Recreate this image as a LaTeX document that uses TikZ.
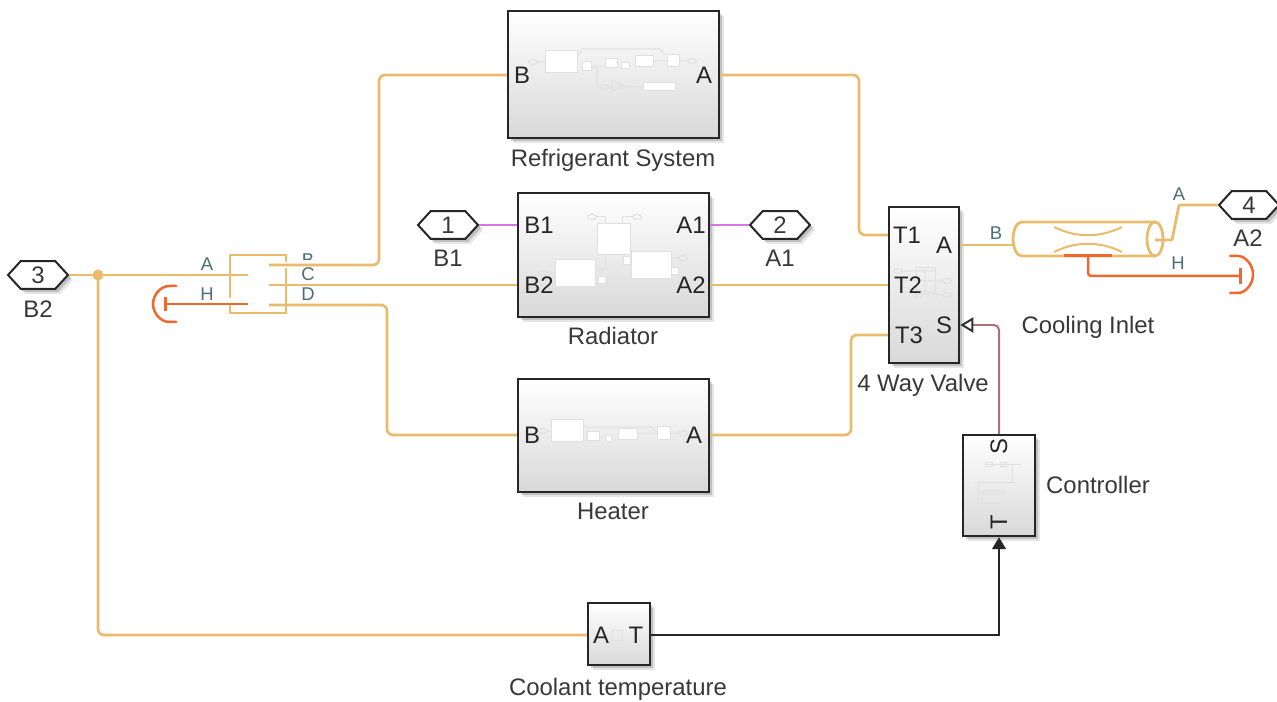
\documentclass[tikz,border=0pt]{standalone}
\usepackage{fontspec}
\setmainfont{Liberation Sans}
\usepackage{xcolor}
\usetikzlibrary{positioning,arrows.meta,shapes.symbols,shadows,calc}
\definecolor{FluidOrange}{RGB}{233,187,106}
\definecolor{HeatRed}{RGB}{240,104,44}
\definecolor{MoistPurple}{RGB}{214,120,226}
\definecolor{SignalBrown}{RGB}{172,112,122}
\definecolor{PortTeal}{RGB}{76,108,118}
\definecolor{BlockEdge}{RGB}{38,38,38}
\definecolor{TextGray}{RGB}{56,56,56}
\tikzset{
  softshadow/.style={drop shadow={shadow xshift=0.10cm, shadow yshift=-0.10cm, opacity=0.10, fill=black},
    drop shadow={shadow xshift=0.06cm, shadow yshift=-0.06cm, opacity=0.16, fill=black}},
  blockbox/.style={draw=BlockEdge, line width=0.05cm, top color=white, middle color=white, bottom color=black!15,
    inner sep=0pt, softshadow},
  porthex/.style={shape=signal, signal to=east and west, signal pointer angle=95, draw=BlockEdge, line width=0.04cm, fill=white,
    minimum width=1.2cm, minimum height=0.56cm, inner sep=0pt, text=TextGray, font=\fontsize{13.6}{15}\selectfont, softshadow},
  blocklab/.style={font=\fontsize{13.6}{15}\selectfont, text=TextGray, inner sep=0pt},
  portlab/.style={font=\fontsize{13.6}{15}\selectfont, text=BlockEdge, inner sep=0pt},
  wirelab/.style={font=\fontsize{10.5}{12}\selectfont, text=PortTeal, inner sep=0pt},
  fluid/.style={FluidOrange, line width=0.055cm, rounded corners=0.12cm},
  heat/.style={HeatRed, line width=0.05cm, rounded corners=0.06cm},
  moist/.style={MoistPurple, line width=0.05cm},
  faint/.style={black!12, line width=0.02cm},
}
\begin{document}
\begin{tikzpicture}[x=0.02cm,y=-0.02cm]
  \useasboundingbox (0,0) rectangle (1277,702);
  % blocks
  \node[blockbox, minimum width=4.22cm, minimum height=2.54cm] (refrig) at (613.5,74.5) {};
  \node[blockbox, minimum width=3.82cm, minimum height=2.48cm] (radiator) at (613.5,255) {};
  \node[blockbox, minimum width=3.82cm, minimum height=2.26cm] (heater) at (613.5,435.5) {};
  \node[blockbox, minimum width=1.40cm, minimum height=3.12cm] (valve) at (924,285) {};
  \node[blockbox, minimum width=1.44cm, minimum height=2.02cm] (ctrl) at (999,485.5) {};
  \node[blockbox, minimum width=1.24cm, minimum height=1.24cm] (coolant) at (619,634) {};
  % ghost content of the subsystems
  \foreach \xa/\ya/\xb/\yb in {545/51/577/73, 582/62/591/71, 605/59/617/68, 621/63/629/69, 635/56/653/67, 667/55/679/67, 643/83/675/91,
      597/224/630/255, 555/260/595/287, 631/252/671/279, 598/277/605/284, 623/257/630/265, 671/268/678/275,
      551/419/583/441, 587/431/599/440, 605/435/611/441, 618/428/637/439, 657/426/670/439}
    \draw[faint, fill=white] (\xa,\ya) rectangle (\xb,\yb);
  \foreach \xa/\ya/\xb/\yb in {916/268/935/295, 985/462/992/466, 1000/462/1006/466, 982/490/1003/494, 612/630/622/640}
    \draw[faint] (\xa,\ya) rectangle (\xb,\yb);
  \foreach \xa/\ya in {533/62, 692/61, 605/87, 592/217, 637/217, 683/258, 543/273, 543/431, 683/433, 898/271, 947/281, 947/295, 918/295}
    \draw[faint] (\xa,\ya) ellipse [x radius=0.09cm, y radius=0.05cm];
  \draw[faint] (538,62) -- (545,62) (577,58) -- (582,49) -- (660,49) -- (665,55) (591,66) -- (605,66) (653,61) -- (667,61) (679,61) -- (687,61)
    (591,68) -- (597,68) -- (597,87) -- (601,87) (609,87) -- (612,87) (612,81) -- (623,86) -- (612,91) -- cycle (623,86) -- (643,87);
  \draw[faint] (597,217) -- (605,217) -- (605,224) (632,217) -- (622,217) -- (622,224) (547,273) -- (555,273) (671,258) -- (678,258)
    (595,270) -- (605,270) -- (605,255) (622,255) -- (622,257);
  \draw[faint] (548,431) -- (551,431) (583,427) -- (651,427) -- (657,432) (637,433) -- (657,433) (670,433) -- (678,433);
  \draw[faint] (903,271) -- (935,271) (903,281) -- (942,281) (903,287) -- (942,295) (925,268) -- (925,295);
  \draw[faint] (985,464) -- (1022,464) (1012,464) -- (1012,482) (975,482) -- (1015,482) (978,482) -- (978,505) (978,492) -- (1005,492) (978,503) -- (1000,503);
  % block titles
  \node[blocklab] (refrigTitle) at (613,160) {Refrigerant System};
  \node[blocklab] (radiatorTitle) at (613,336) {Radiator};
  \node[blocklab] (heaterTitle) at (613,511) {Heater};
  \node[blocklab] (valveTitle) at (923,385) {4 Way Valve};
  \node[blocklab] (ctrlTitle) at (1098,485) {Controller};
  \node[blocklab] (coolantTitle) at (618,689) {Coolant temperature};
  \node[blocklab] (inletTitle) at (1088,327) {Cooling Inlet};
  % port names inside the blocks
  \node[portlab] (refrigB) at (522,75) {B};
  \node[portlab] (refrigA) at (704,75) {A};
  \node[portlab] (radB1) at (539,225) {B1};
  \node[portlab] (radA1) at (691,225) {A1};
  \node[portlab] (radB2) at (539,285) {B2};
  \node[portlab] (radA2) at (691,285) {A2};
  \node[portlab] (heatB) at (532,435) {B};
  \node[portlab] (heatA) at (694,435) {A};
  \node[portlab] (valveT1) at (907,235) {T1};
  \node[portlab] (valveT2) at (908,285) {T2};
  \node[portlab] (valveT3) at (909,335) {T3};
  \node[portlab] (valveA) at (944,245) {A};
  \node[portlab] (valveS) at (944,325) {S};
  \node[portlab, rotate=90] (ctrlS) at (999,447) {S};
  \node[portlab, rotate=90] (ctrlT) at (999,522) {T};
  \node[portlab] (coolA) at (601,635) {A};
  \node[portlab] (coolT) at (636,635) {T};
  % outer ports
  \node[porthex] (port3) at (38,275) {3};
  \node[porthex] (port1) at (448,225) {1};
  \node[porthex] (port2) at (780,225) {2};
  \node[porthex] (port4) at (1249,205) {4};
  \node[blocklab] (port3Name) at (38,309) {B2};
  \node[blocklab] (port1Name) at (448,258) {B1};
  \node[blocklab] (port2Name) at (780,258) {A1};
  \node[blocklab] (port4Name) at (1248,238) {A2};
  % connection labels
  \node[wirelab] (splitLabA) at (207,264) {A};
  \node[wirelab] (splitLabH) at (207,294) {H};
  \node[wirelab] (splitLabB) at (308,260) {B};
  \node[wirelab, fill=white, minimum width=0.5cm, minimum height=0.58cm] (splitLabC) at (308,274) {C};
  \node[wirelab] (splitLabD) at (308,294) {D};
  \node[wirelab] (pipeLabB) at (996,233) {B};
  \node[wirelab] (pipeLabA) at (1179,194) {A};
  \node[wirelab] (pipeLabH) at (1178,263) {H};
  % fluid splitter
  \coordinate (splitA) at (248,275);
  \coordinate (splitB) at (269,265);
  \coordinate (splitC) at (269,285);
  \coordinate (splitD) at (269,305);
  \coordinate (splitH) at (248,304);
  \draw[fluid, rounded corners=0pt, line cap=round] (230,297) -- (230,255) -- (286,255) -- (286,261)
    (286,269) -- (286,313) -- (230,313) -- (230,306);
  % pipe
  \draw[fluid, rounded corners=0pt] (1155,222) -- (1022,222) arc [start angle=90, end angle=270, x radius=0.18cm, y radius=0.34cm] -- (1155,256);
  \draw[fluid] (1155,239) ellipse [x radius=0.16cm, y radius=0.34cm];
  \draw[FluidOrange, line width=0.04cm] (1054,227) .. controls (1076,238) and (1100,238) .. (1122,227);
  \draw[FluidOrange, line width=0.04cm] (1054,252) .. controls (1076,241) and (1100,241) .. (1122,252);
  \coordinate (pipeB) at (1013,245);
  \coordinate (pipeA) at (1155,240);
  \coordinate (pipeH) at (1088,256);
  \coordinate (junc) at (98,275);
  % wires
  \draw[fluid] (port3.east) -- (splitA);
  \fill[FluidOrange] (junc) circle (0.11cm);
  \draw[fluid] (junc) |- (refrig.west |- coolA) -- (coolant.west |- coolA);
  \draw[fluid] (splitB) -- (379,265) -- (379,75) -- (refrig.west |- refrigB);
  \draw[fluid] (refrig.east |- refrigA) -- (859,75) -- (859,235) -- (valve.west |- valveT1);
  \draw[fluid] (splitC) -- (radiator.west |- radB2);
  \draw[fluid] (radiator.east |- radA2) -- (valve.west |- valveT2);
  \draw[fluid] (splitD) -- (387,305) -- (387,435) -- (heater.west |- heatB);
  \draw[fluid] (heater.east |- heatA) -- (851,435) -- (851,335) -- (valve.west |- valveT3);
  \draw[fluid] (valve.east |- valveA) -- (pipeB);
  \draw[fluid, rounded corners=0.02cm] (pipeA) -- (1172,240) -- (1179,205) -- (port4.west);
  \draw[moist] (port1.east) -- (radiator.west |- radB1);
  \draw[moist] (radiator.east |- radA1) -- (port2.west);
  % thermal side
  \draw[heat] (165,304) -- (splitH);
  \draw[heat, line width=0.06cm] (165,297) -- (165,311);
  \draw[heat, line cap=round] (176,286) -- (172,286) arc [start angle=90, end angle=270, x radius=0.38cm, y radius=0.36cm] -- (176,322);
  \draw[heat, line width=0.06cm] (1064,256) -- (1112,256);
  \draw[heat] (pipeH) -- (1088,276) -- (1240,276);
  \draw[heat, line width=0.06cm] (1240,268) -- (1240,284);
  \draw[heat, line cap=round] (1230,256) -- (1235,256) arc [start angle=90, end angle=-90, x radius=0.36cm, y radius=0.37cm] -- (1230,293);
  % signals
  \draw[SignalBrown, line width=0.04cm, rounded corners=0.1cm, -{Triangle[open, black!80, length=0.26cm, width=0.3cm]}]
    (ctrl.north) |- (valve.east |- valveS);
  \draw[BlockEdge, line width=0.03cm, -{Triangle[length=0.24cm, width=0.28cm]}]
    (coolant.east |- coolT) -| (ctrl.south);
\end{tikzpicture}
\end{document}
